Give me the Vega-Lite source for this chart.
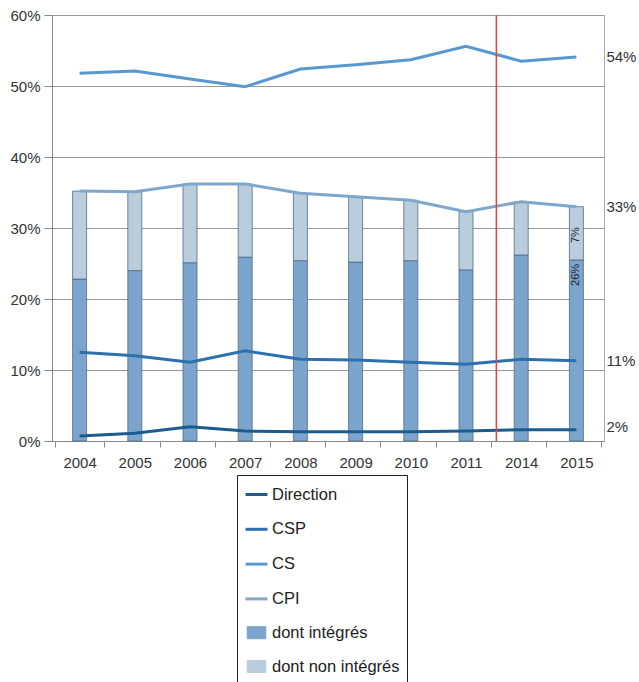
{
  "$schema": "https://vega.github.io/schema/vega-lite/v6.json",
  "autosize": {"type": "none"},
  "padding": {"left": 52, "top": 15, "right": 35, "bottom": 241},
  "width": 552,
  "height": 426,
  "background": "white",
  "config": {
    "font": "Liberation Sans",
    "view": {"stroke": "#aaaaaa", "strokeWidth": 1},
    "axis": {"labelFont": "Liberation Sans", "labelFontSize": 15, "labelColor": "#333333", "domainColor": "#888888", "tickColor": "#888888", "gridColor": "#999999", "title": null}
  },
  "datasets": {
    "main": [
      {"year": "2004", "series": "Direction", "value": 0.7},
      {"year": "2005", "series": "Direction", "value": 1.1},
      {"year": "2006", "series": "Direction", "value": 2.0},
      {"year": "2007", "series": "Direction", "value": 1.4},
      {"year": "2008", "series": "Direction", "value": 1.3},
      {"year": "2009", "series": "Direction", "value": 1.3},
      {"year": "2010", "series": "Direction", "value": 1.3},
      {"year": "2011", "series": "Direction", "value": 1.4},
      {"year": "2014", "series": "Direction", "value": 1.6},
      {"year": "2015", "series": "Direction", "value": 1.6},
      {"year": "2004", "series": "CSP", "value": 12.5},
      {"year": "2005", "series": "CSP", "value": 12.0},
      {"year": "2006", "series": "CSP", "value": 11.1},
      {"year": "2007", "series": "CSP", "value": 12.7},
      {"year": "2008", "series": "CSP", "value": 11.5},
      {"year": "2009", "series": "CSP", "value": 11.4},
      {"year": "2010", "series": "CSP", "value": 11.1},
      {"year": "2011", "series": "CSP", "value": 10.8},
      {"year": "2014", "series": "CSP", "value": 11.5},
      {"year": "2015", "series": "CSP", "value": 11.3},
      {"year": "2004", "series": "CS", "value": 51.8},
      {"year": "2005", "series": "CS", "value": 52.1},
      {"year": "2006", "series": "CS", "value": 51.0},
      {"year": "2007", "series": "CS", "value": 49.9},
      {"year": "2008", "series": "CS", "value": 52.4},
      {"year": "2009", "series": "CS", "value": 53.0},
      {"year": "2010", "series": "CS", "value": 53.7},
      {"year": "2011", "series": "CS", "value": 55.6},
      {"year": "2014", "series": "CS", "value": 53.5},
      {"year": "2015", "series": "CS", "value": 54.1},
      {"year": "2004", "series": "CPI", "value": 35.2},
      {"year": "2005", "series": "CPI", "value": 35.1},
      {"year": "2006", "series": "CPI", "value": 36.2},
      {"year": "2007", "series": "CPI", "value": 36.2},
      {"year": "2008", "series": "CPI", "value": 34.9},
      {"year": "2009", "series": "CPI", "value": 34.4},
      {"year": "2010", "series": "CPI", "value": 33.9},
      {"year": "2011", "series": "CPI", "value": 32.3},
      {"year": "2014", "series": "CPI", "value": 33.7},
      {"year": "2015", "series": "CPI", "value": 33.0},
      {"year": "2004", "series": "dont intégrés", "value": 22.8},
      {"year": "2005", "series": "dont intégrés", "value": 24.0},
      {"year": "2006", "series": "dont intégrés", "value": 25.1},
      {"year": "2007", "series": "dont intégrés", "value": 25.9},
      {"year": "2008", "series": "dont intégrés", "value": 25.4},
      {"year": "2009", "series": "dont intégrés", "value": 25.2},
      {"year": "2010", "series": "dont intégrés", "value": 25.4},
      {"year": "2011", "series": "dont intégrés", "value": 24.1},
      {"year": "2014", "series": "dont intégrés", "value": 26.2},
      {"year": "2015", "series": "dont intégrés", "value": 25.5},
      {"year": "2004", "series": "dont non intégrés", "value": 12.4},
      {"year": "2005", "series": "dont non intégrés", "value": 11.1},
      {"year": "2006", "series": "dont non intégrés", "value": 11.1},
      {"year": "2007", "series": "dont non intégrés", "value": 10.3},
      {"year": "2008", "series": "dont non intégrés", "value": 9.5},
      {"year": "2009", "series": "dont non intégrés", "value": 9.2},
      {"year": "2010", "series": "dont non intégrés", "value": 8.5},
      {"year": "2011", "series": "dont non intégrés", "value": 8.2},
      {"year": "2014", "series": "dont non intégrés", "value": 7.5},
      {"year": "2015", "series": "dont non intégrés", "value": 7.5}
    ],
    "endLabels": [
      {"year": "2015", "value": 54.1, "label": "54%"},
      {"year": "2015", "value": 33.0, "label": "33%"},
      {"year": "2015", "value": 11.3, "label": "11%"},
      {"year": "2015", "value": 2.0, "label": "2%"}
    ],
    "barLabels": [
      {"year": "2015", "value": 29.0, "label": "7%"},
      {"year": "2015", "value": 23.4, "label": "26%"}
    ],
    "marker": [{"year": "2014"}]
  },
  "layer": [
    {
      "data": {"name": "main"},
      "transform": [{"filter": "indexof(datum.series, 'dont') === 0"}],
      "mark": {"type": "bar", "size": 14, "stroke": "#4f6c86", "strokeWidth": 0.8},
      "encoding": {
        "x": {"field": "year", "type": "nominal", "sort": null,
          "axis": {"labelAngle": 0, "tickBand": "extent", "tickSize": 6, "labelPadding": 8, "grid": false}},
        "y": {"field": "value", "type": "quantitative", "stack": "zero",
          "scale": {"domain": [0, 60], "nice": false},
          "axis": {"values": [0, 10, 20, 30, 40, 50, 60], "labelExpr": "datum.value + '%'", "tickSize": 8, "labelPadding": 4, "grid": true}},
        "order": {"field": "series", "sort": "ascending"},
        "color": {"field": "series", "type": "nominal",
          "scale": {"domain": ["Direction", "CSP", "CS", "CPI", "dont intégrés", "dont non intégrés"],
                    "range": ["#1b5c8e", "#2c70ad", "#5898d0", "#7fa7cb", "#7ba5cc", "#b9cddd"]},
          "legend": {
            "title": null, "orient": "none", "legendX": 185, "legendY": 460, "direction": "vertical",
            "labelFont": "Liberation Sans", "labelFontSize": 16.5, "labelColor": "#222222",
            "symbolSize": 480, "rowPadding": 13.8, "padding": 7, "labelOffset": 3,
            "symbolOpacity": 1,
            "strokeColor": "#222222", "fillColor": "white"
          }}
      }
    },
    {
      "data": {"name": "main"},
      "transform": [{"filter": "indexof(datum.series, 'dont') !== 0"}],
      "mark": {"type": "line", "strokeWidth": 3},
      "encoding": {
        "x": {"field": "year", "type": "nominal", "sort": null},
        "y": {"field": "value", "type": "quantitative"},
        "color": {"field": "series", "type": "nominal"}
      }
    },
    {
      "data": {"name": "main"},
      "transform": [{"filter": "datum.value < -100"}],
      "mark": {"type": "point"},
      "encoding": {
        "x": {"field": "year", "type": "nominal", "sort": null},
        "y": {"field": "value", "type": "quantitative"},
        "color": {"field": "series", "type": "nominal"},
        "shape": {"field": "series", "type": "nominal",
          "scale": {"domain": ["Direction", "CSP", "CS", "CPI", "dont intégrés", "dont non intégrés"],
                    "range": ["M-1,0H1", "M-1,0H1", "M-1,0H1", "M-1,0H1", "M-0.85,-0.55H0.85V0.55H-0.85Z", "M-0.85,-0.55H0.85V0.55H-0.85Z"]}},
        "strokeWidth": {"field": "series", "type": "nominal",
          "scale": {"type": "ordinal", "domain": ["Direction", "CSP", "CS", "CPI", "dont intégrés", "dont non intégrés"],
                    "range": [3, 3, 3, 3, 1, 1]}}
      }
    },
    {
      "data": {"name": "marker"},
      "mark": {"type": "rule", "color": "#e8403a", "strokeWidth": 1.5},
      "encoding": {
        "x": {"field": "year", "type": "nominal", "sort": null, "bandPosition": 0}
      }
    },
    {
      "data": {"name": "endLabels"},
      "mark": {"type": "text", "align": "left", "dx": 30, "fontSize": 15, "color": "#333333", "font": "Liberation Sans"},
      "encoding": {
        "x": {"field": "year", "type": "nominal", "sort": null},
        "y": {"field": "value", "type": "quantitative"},
        "text": {"field": "label"}
      }
    },
    {
      "data": {"name": "barLabels"},
      "mark": {"type": "text", "angle": 270, "fontSize": 11, "color": "#222222", "font": "Liberation Sans", "baseline": "middle", "align": "center"},
      "encoding": {
        "x": {"field": "year", "type": "nominal", "sort": null},
        "y": {"field": "value", "type": "quantitative"},
        "text": {"field": "label"}
      }
    }
  ]
}
